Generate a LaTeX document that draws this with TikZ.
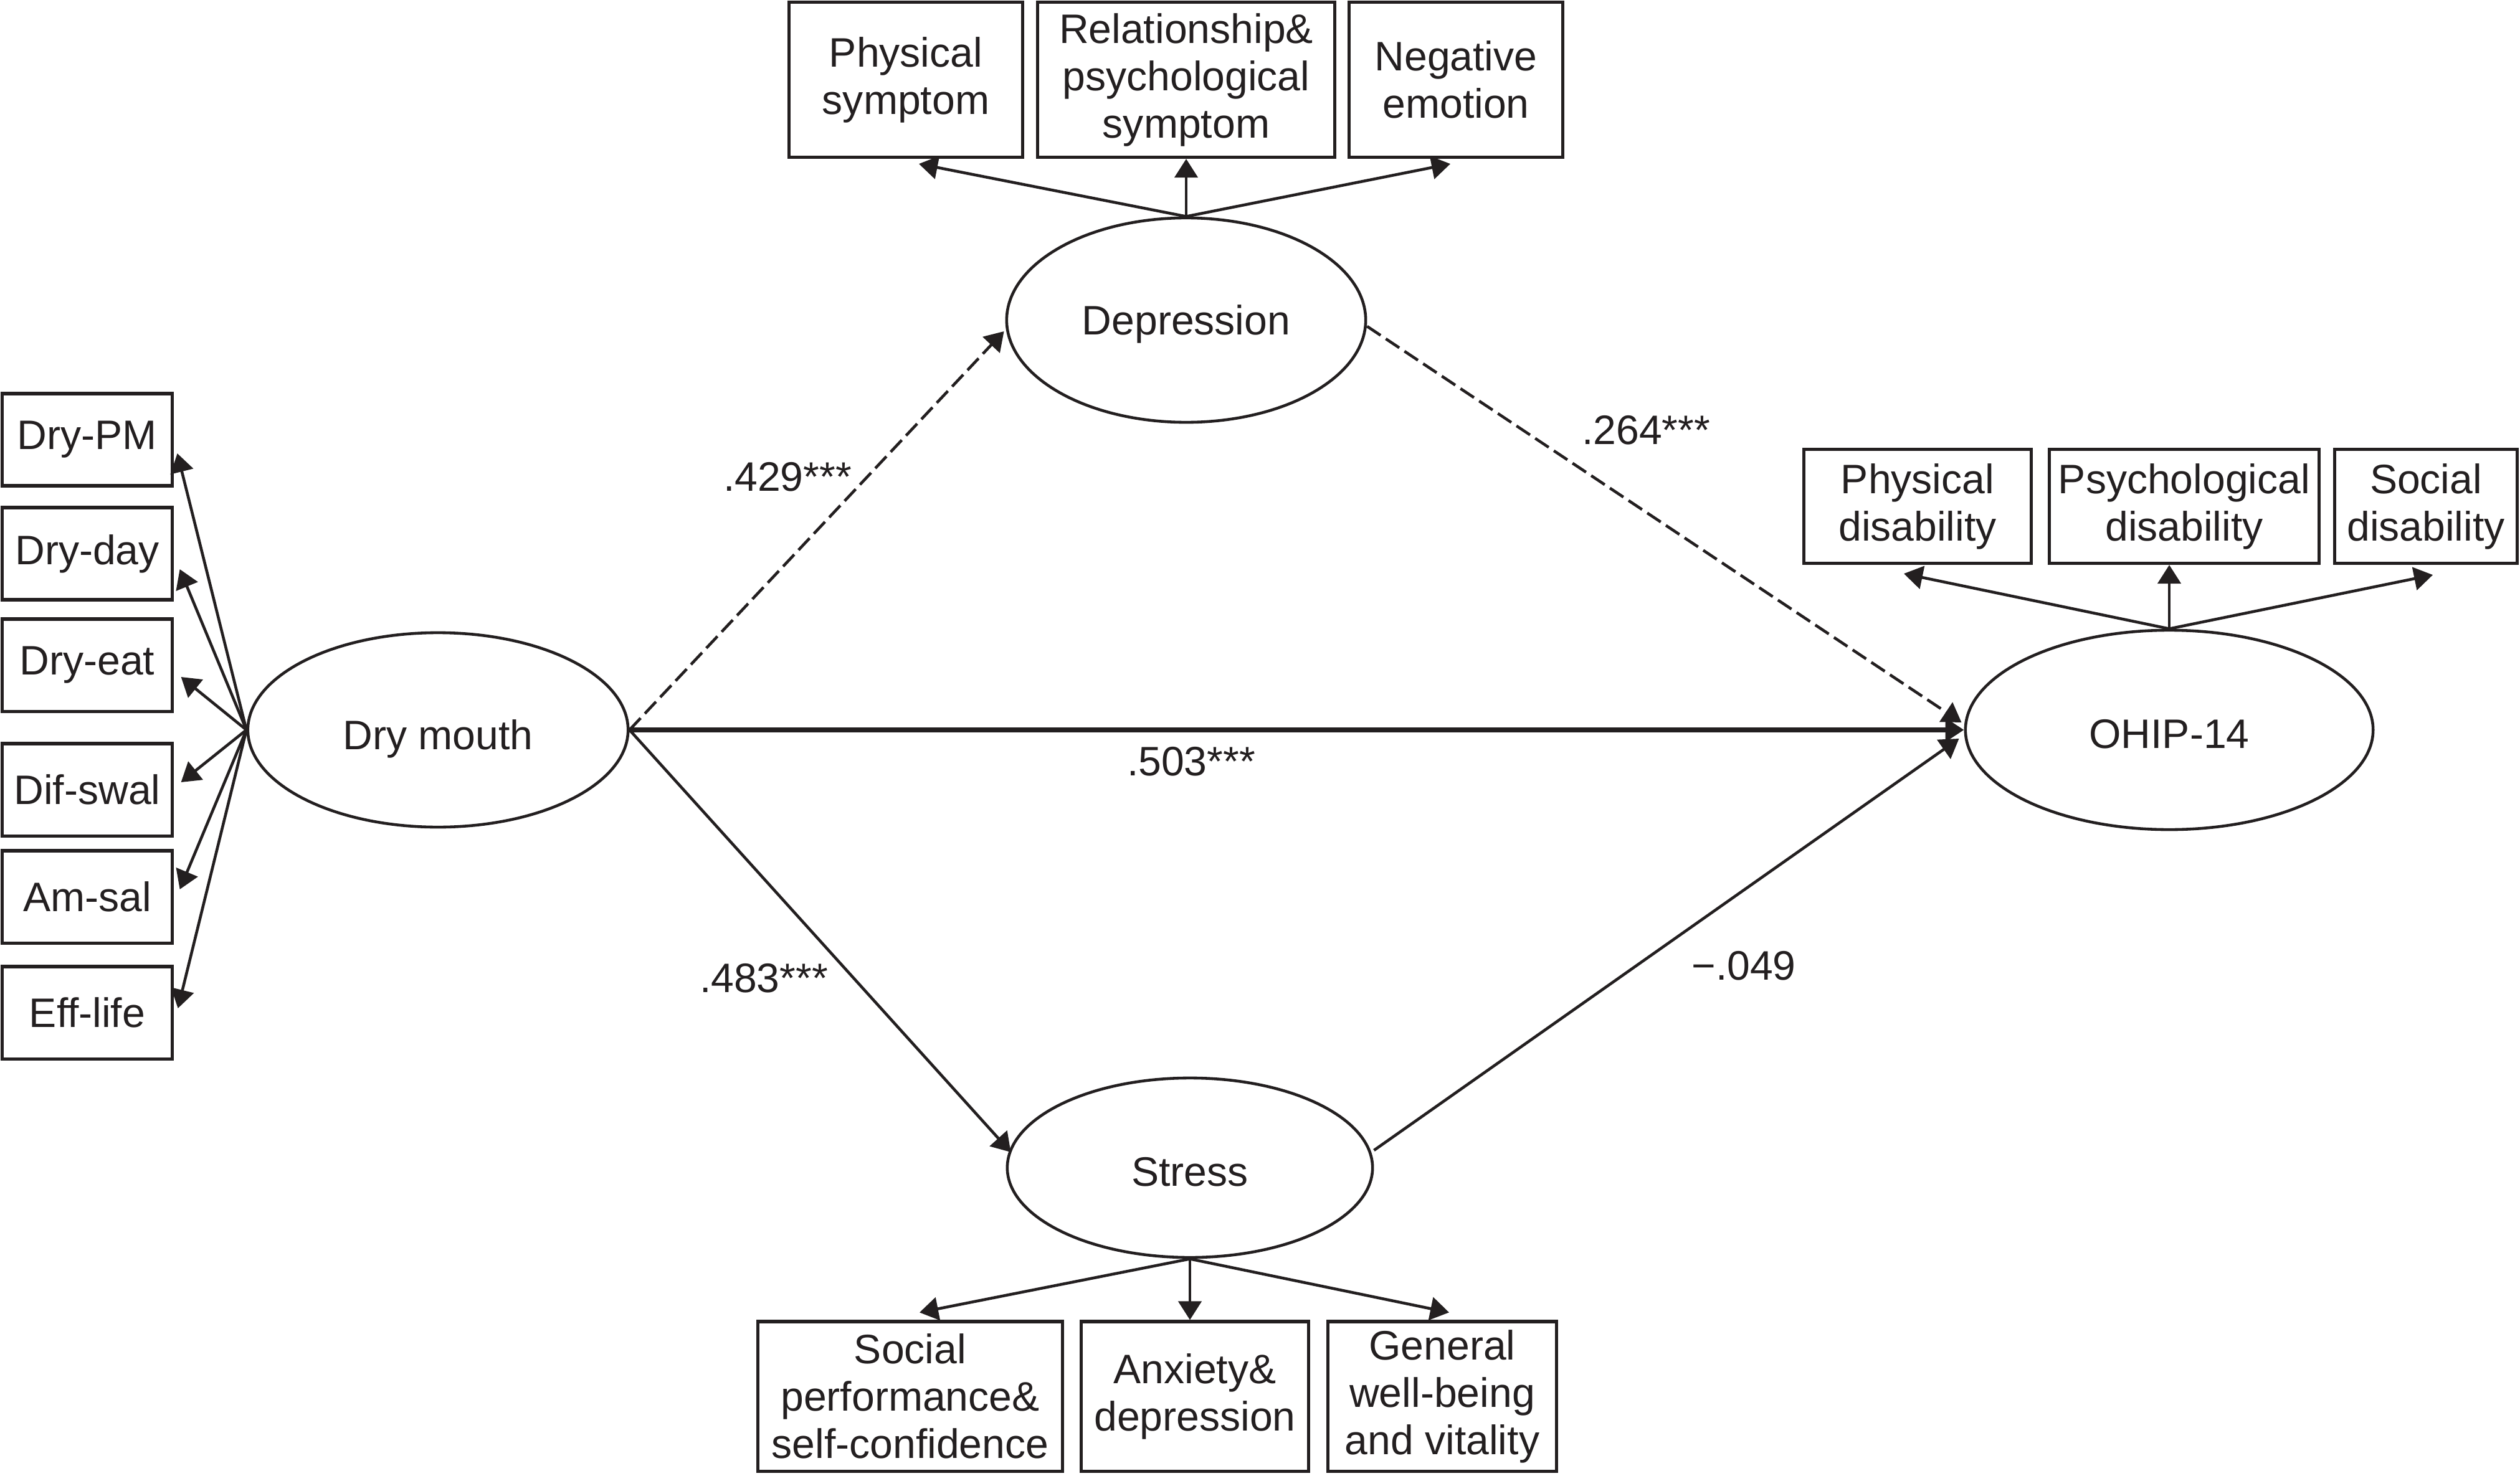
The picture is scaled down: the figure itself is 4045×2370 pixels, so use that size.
\documentclass[tikz,border=0pt]{standalone}
\usepackage{fontspec}
\setmainfont{Liberation Sans}
\usetikzlibrary{arrows.meta,shapes.geometric,calc}
\definecolor{ink}{HTML}{231F20}
\begin{document}
\begin{tikzpicture}[x=0.01cm,y=-0.01cm,
  txt/.style={text=ink,font=\fontsize{18.8}{21.6}\selectfont},
  box/.style={txt,draw=ink,line width=1.45pt,inner sep=0pt,align=center},
  latent/.style={txt,ellipse,draw=ink,line width=1.3pt,inner sep=0pt,text depth=0cm},
  arr/.style={draw=ink,line width=1.3pt,-{Triangle[length=0.30cm,width=0.37cm]}},
  mainarr/.style={arr,line width=2.5pt},
  dasharr/.style={arr,dash pattern=on 0.26cm off 0.10cm}]
\useasboundingbox (0,0) rectangle (4045,2370);

% latent variables
\node[latent,minimum width=6.10cm,minimum height=3.12cm,text height=0.62cm] (dm) at (703,1172) {Dry mouth};
\node[latent,minimum width=5.76cm,minimum height=3.28cm,text height=0.46cm] (dep) at (1904,514) {Depression};
\node[latent,minimum width=5.86cm,minimum height=2.88cm,text height=0.58cm] (st) at (1910,1875) {Stress};
\node[latent,minimum width=6.54cm,minimum height=3.20cm,text height=0.58cm] (oh) at (3482,1172) {OHIP-14};

% left indicators
\foreach \n/\y/\t in {dpm/706/Dry-PM, dday/889/Dry-day, deat/1068/Dry-eat, dswal/1268/Dif-swal, amsal/1440/Am-sal, efl/1626/Eff-life}
  \node[box,minimum width=2.72cm,minimum height=1.48cm] (\n) at (140,\y) {\t};

% top indicators
\node[box,minimum width=3.75cm,minimum height=2.49cm] (physym) at (1454,128) {Physical\\symptom};
\node[box,minimum width=4.77cm,minimum height=2.49cm] (relpsy) at (1904,128) {Relationship\&\\psychological\\symptom};
\node[box,minimum width=3.42cm,minimum height=2.49cm] (negemo) at (2337,128) {Negative\\emotion};

% right indicators
\node[box,minimum width=3.65cm,minimum height=1.83cm] (phydis) at (3078,813) {Physical\\disability};
\node[box,minimum width=4.32cm,minimum height=1.83cm] (psydis) at (3506,813) {Psychological\\disability};
\node[box,minimum width=2.93cm,minimum height=1.83cm] (socdis) at (3894,813) {Social\\disability};

% bottom indicators
\node[box,minimum width=4.89cm,minimum height=2.40cm] (socperf) at (1461,2242) {Social\\performance\&\\self-confidence};
\node[box,minimum width=3.65cm,minimum height=2.40cm] (anxdep) at (1918,2242) {Anxiety\&\\depression};
\node[box,minimum width=3.66cm,minimum height=2.40cm] (genwell) at (2315,2242) {General\\well-being\\and vitality};

% left arrows
\draw[arr] (dm.west) -- ($(dpm.east)+(6,22)$);
\draw[arr] (dm.west) -- ($(dday.east)+(10,25)$);
\draw[arr] (dm.west) -- ($(deat.east)+(12,19)$);
\draw[arr] (dm.west) -- ($(dswal.east)+(12,-12)$);
\draw[arr] (dm.west) -- ($(amsal.east)+(10,-12)$);
\draw[arr] (dm.west) -- ($(efl.east)+(7,-7)$);

% top arrows
\draw[arr] (dep.north) -- ($(physym.south)+(21,8)$);
\draw[arr] (dep.north) -- (relpsy.south);
\draw[arr] (dep.north) -- ($(negemo.south)+(-9,8)$);

% right arrows
\draw[arr] (oh.north) -- ($(phydis.south)+(-22,14)$);
\draw[arr] (oh.north) -- ($(psydis.south)+(-24,0)$);
\draw[arr] (oh.north) -- ($(socdis.south)+(11,16)$);

% bottom arrows
\draw[arr] (st.south) -- ($(socperf.north)+(15,-12)$);
\draw[arr] (st.south) -- (st.south |- anxdep.north);
\draw[arr] (st.south) -- ($(genwell.north)+(11,-12)$);

% structural paths
\draw[dasharr] (dm.east) -- ($(dep.west)+(-2,18)$);
\draw[mainarr] (dm.east) -- (oh.west);
\draw[dasharr] ($(dep.east)+(0,10)$) -- ($(oh.west)+(-4,-12)$);
\draw[arr] (dm.east) -- ($(st.west)+(8,-25)$);
\draw[arr] ($(st.east)+(0,-28)$) -- ($(oh.west)+(-8,14)$);

% coefficients
\node[txt] (c1) at (1264,766) {.429***};
\node[txt] (c2) at (2642,691) {.264***};
\node[txt] (c3) at (1912,1223) {.503***};
\node[txt] (c4) at (1226,1571) {.483***};
\node[txt] (c5) at (2799,1551) {\char"2212.049};
\end{tikzpicture}
\end{document}
